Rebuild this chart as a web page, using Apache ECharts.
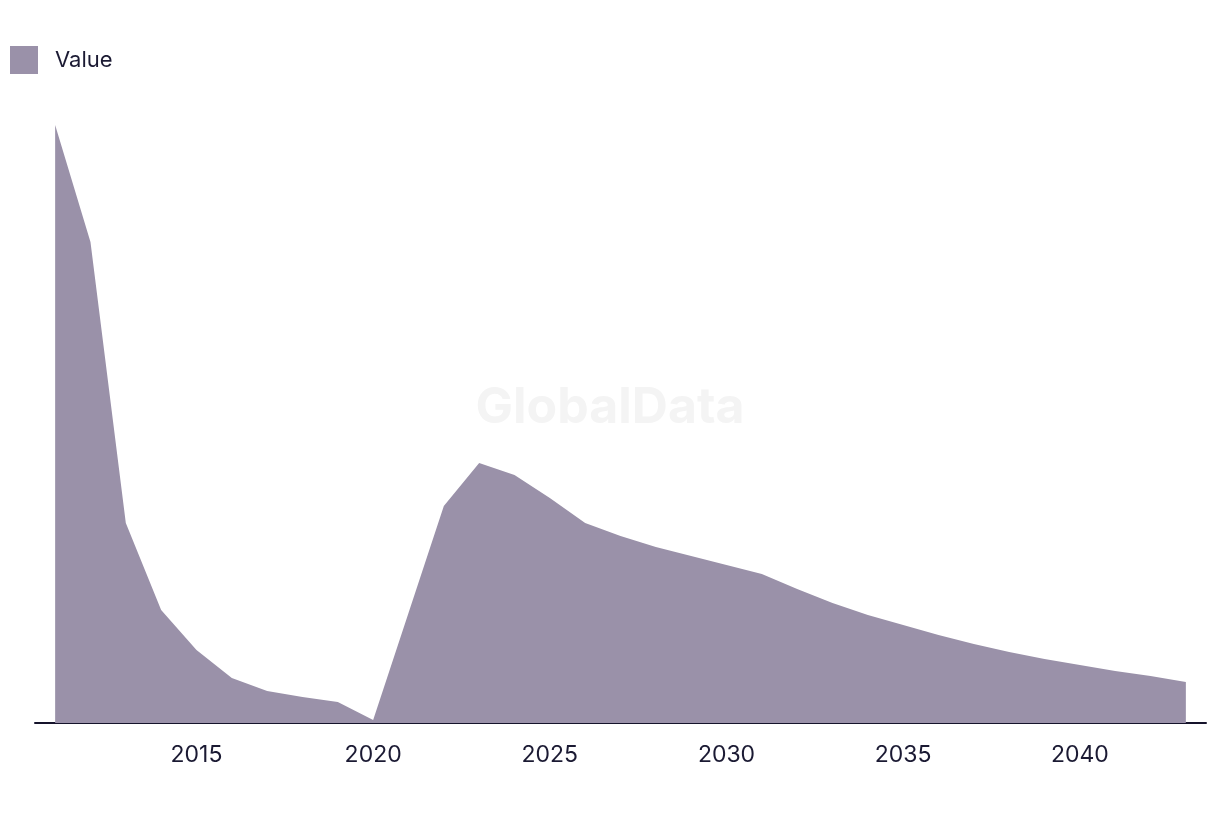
<!DOCTYPE html>
<html>
<head>
<meta charset="utf-8">
<script src="https://cdn.jsdelivr.net/npm/echarts@6/dist/echarts.min.js"></script>
<style>
html,body{margin:0;padding:0;background:#fff;}
#chart{width:1220px;height:814px;}
</style>
</head>
<body>
<div id="chart"></div>
<script>
const years = [2011,2012,2013,2014,2015,2016,2017,2018,2019,2020,2021,2022,2023,2024,2025,2026,2027,2028,2029,2030,2031,2032,2033,2034,2035,2036,2037,2038,2039,2040,2041,2042,2043];
const values = [598,481,200,113,73,45,32,26,21,3,110,217,260,248,225,200,187,176,167,158,149,134,120,108,98,88,79,71,64,58,52,47,41];
const tickYears = [2015,2020,2025,2030,2035,2040];
const seriesName = 'Value';

const chart = echarts.init(document.getElementById('chart'));
chart.setOption({
  animation: false,
  backgroundColor: '#ffffff',
  graphic: [{
    type: 'text', left: 'center', top: 383, z: 0,
    style: { text: 'GlobalData', fontSize: 50, fontWeight: 'bold', fontFamily: 'Inter, sans-serif', fill: '#f4f4f4' }
  }],
  legend: {
    left: 10, top: 46, padding: 0, itemWidth: 28, itemHeight: 28, icon: 'rect',
    textStyle: { fontSize: 22, color: '#1b1a33', fontFamily: 'Inter, sans-serif', padding: [0,0,3,12] },
    data: [seriesName]
  },
  grid: { left: 35, right: 14, top: 123, bottom: 91 },
  xAxis: {
    type: 'value', min: 2010.43, max: 2043.57,
    splitLine: { show: false },
    axisTick: { show: false },
    axisLine: { show: true, lineStyle: { color: '#15132b', width: 2 } },
    axisLabel: { customValues: tickYears, fontSize: 23, color: '#1b1a33', fontFamily: 'Inter, sans-serif', margin: 21, formatter: v => String(v) }
  },
  yAxis: { type: 'value', min: 0, max: 600, show: false, splitLine: { show: false } },
  series: [{
    name: seriesName, type: 'line', symbol: 'none',
    data: years.map((y, i) => [y, values[i]]),
    itemStyle: { color: '#9a91a9' },
    lineStyle: { width: 0 },
    areaStyle: { color: '#9a91a9', opacity: 1 },
    z: 2
  }]
});
</script>
</body>
</html>
